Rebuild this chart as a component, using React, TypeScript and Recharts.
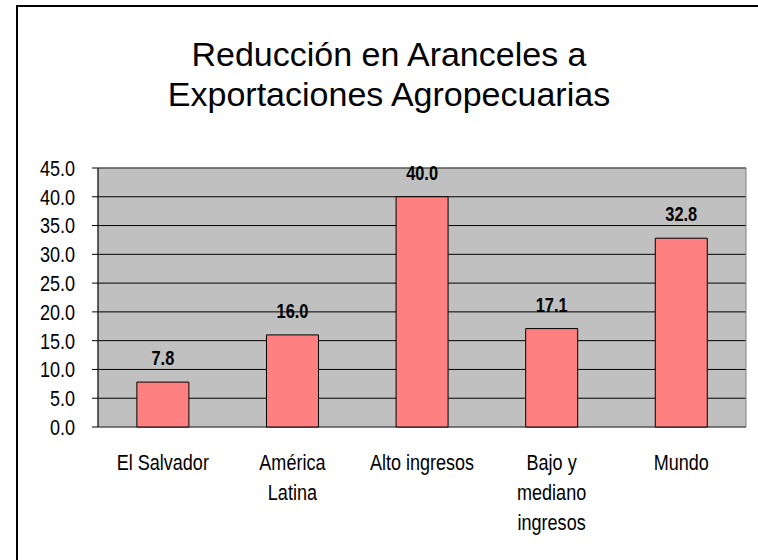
import React from 'react';
import { BarChart, Bar, XAxis, YAxis, CartesianGrid, LabelList, ReferenceArea } from 'recharts';

const titleLines = ['Reducción en Aranceles a', 'Exportaciones Agropecuarias'];
const categories = ['El Salvador', 'América Latina', 'Alto ingresos', 'Bajo y mediano ingresos', 'Mundo'];
const categoryLines = [['El Salvador'], ['América', 'Latina'], ['Alto ingresos'], ['Bajo y', 'mediano', 'ingresos'], ['Mundo']];
const values = [7.8, 16.0, 40.0, 17.1, 32.8];
const yTicks = [0, 5, 10, 15, 20, 25, 30, 35, 40, 45];
const boundaryTicks = [0, 1, 2, 3, 4, 5];

const data = categories.map((c, i) => ({ name: c, value: values[i] }));

const SANS = '"Liberation Sans", Arial, sans-serif';
const SX = 0.82;

const CatTick = (props: any) => {
  const { x, y, index } = props;
  const lines = categoryLines[index] || [];
  return (
    <g transform={`translate(${x},${y}) scale(${SX},1)`}>
      <text x={0} y={0} textAnchor="middle" fontFamily={SANS} fontSize={22} fill="#000">
        {lines.map((l, i) => (
          <tspan key={i} x={0} y={43 + i * 30}>{l}</tspan>
        ))}
      </text>
    </g>
  );
};

const YTick = (props: any) => {
  const { x, y, payload } = props;
  return (
    <g transform={`translate(${x},${y}) scale(${SX},1)`}>
      <text x={0} y={0} dy="0.36em" textAnchor="end" fontFamily={SANS} fontSize={22} fill="#000">
        {Number(payload.value).toFixed(1)}
      </text>
    </g>
  );
};

const BarLabel = (props: any) => {
  const { x, y, width, value } = props;
  return (
    <g transform={`translate(${Number(x) + Number(width) / 2},${Number(y) - 17}) scale(${SX},1)`}>
      <text x={0} y={0} textAnchor="middle" fontFamily={SANS} fontSize={20} fontWeight="bold" fill="#000">
        {Number(value).toFixed(1)}
      </text>
    </g>
  );
};

export default function App() {
  return (
    <div style={{ position: 'fixed', left: 0, top: 0, width: 758, height: 560, overflow: 'hidden', background: '#fff' }}>
      <div style={{ position: 'absolute', left: 16, top: 5, width: 742, height: 2, background: '#000' }} />
      <div style={{ position: 'absolute', left: 16, top: 5, width: 2, height: 555, background: '#000' }} />
      <div style={{ position: 'absolute', left: 0, top: 34, width: 778, textAlign: 'center', fontFamily: SANS, fontSize: 34, lineHeight: '40px', color: '#000' }}>
        {titleLines.map((t, i) => (<div key={i}>{t}</div>))}
      </div>
      <div style={{ position: 'absolute', left: 0, top: 0 }}>
        <BarChart width={758} height={560} data={data} margin={{ top: 168, right: 12, left: 38, bottom: 33 }} barCategoryGap="30%">
          <CartesianGrid xAxisId="cat" vertical={false} stroke="#000" strokeWidth={1} fill="#C0C0C0" fillOpacity={1} />
          <XAxis xAxisId="num" type="number" domain={[0, 5]} ticks={boundaryTicks} height={0} axisLine={{ stroke: '#000' }} tickLine={{ stroke: '#000' }} tickSize={6} tickFormatter={() => ''} allowDataOverflow />
          <XAxis xAxisId="cat" dataKey="name" height={100} axisLine={false} tickLine={false} tickSize={0} tickMargin={0} interval={0} tick={<CatTick />} />
          <YAxis domain={[0, 45]} ticks={yTicks} width={60} interval={0} axisLine={{ stroke: '#000' }} tickLine={{ stroke: '#000' }} tickSize={6} tickMargin={17} tick={<YTick />} />
          <ReferenceArea xAxisId="cat" y1={0} y2={45} fill="none" stroke="#808080" strokeWidth={1} ifOverflow="visible" />
          <Bar xAxisId="cat" dataKey="value" fill="#FF8080" stroke="#000" strokeWidth={1} isAnimationActive={false}>
            <LabelList dataKey="value" content={<BarLabel />} />
          </Bar>
        </BarChart>
      </div>
    </div>
  );
}
